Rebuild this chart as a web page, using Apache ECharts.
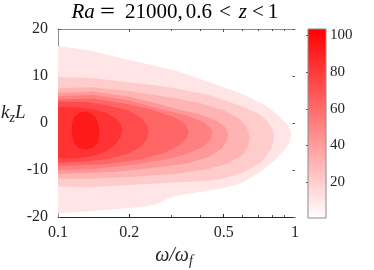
<!DOCTYPE html>
<html><head><meta charset="utf-8">
<script src="https://cdn.jsdelivr.net/npm/echarts@6/dist/echarts.min.js"></script>
<style>html,body{margin:0;padding:0;background:#fff}#c{width:374px;height:270px}</style>
</head><body><div id="c"></div>
<script>
// contour levels (value of each filled region's lower bound)
const levels = [11, 21, 31, 42, 52, 62, 73, 83, 93];
// contour outlines in data space [omega/omega_f, k_z L]
const contour11 = [[0.1,16.4],[0.134,15.5],[0.186,13.8],[0.245,12.4],[0.327,10.9],[0.429,8.8],[0.595,6.3],[0.748,3.8],[0.847,1.7],[0.934,-0.4],[0.958,-1.5],[0.962,-2.8],[0.945,-4.2],[0.907,-5.6],[0.823,-7.9],[0.699,-10.7],[0.595,-12.8],[0.505,-13.8],[0.429,-14.4],[0.312,-15.5],[0.283,-16.4],[0.257,-17.4],[0.217,-17.9],[0.158,-18.5],[0.1,-19.2]];
const contour21 = [[0.1,9.8],[0.14,9.6],[0.2,8.6],[0.26,8.0],[0.31,7.4],[0.43,6.0],[0.6,3.5],[0.7,2.0],[0.76,0.5],[0.8,-1.0],[0.815,-2.3],[0.81,-3.8],[0.795,-5.5],[0.72,-8.4],[0.6,-10.6],[0.5,-11.8],[0.43,-12.3],[0.32,-12.6],[0.24,-13.0],[0.14,-13.6],[0.1,-13.5]];
const contour31 = [[0.1,7.4],[0.14,7.6],[0.2,6.8],[0.31,5.3],[0.4,4.2],[0.5,2.7],[0.58,1.0],[0.625,-0.8],[0.645,-2.9],[0.635,-5.0],[0.6,-6.8],[0.52,-8.6],[0.43,-9.8],[0.32,-10.8],[0.2,-11.5],[0.14,-11.8],[0.1,-11.8]];
const contour42 = [[0.1,6.4],[0.14,6.7],[0.2,5.6],[0.25,4.4],[0.31,3.1],[0.4,1.8],[0.47,0.4],[0.51,-1.0],[0.522,-2.2],[0.515,-3.8],[0.49,-5.5],[0.43,-7.3],[0.35,-8.6],[0.25,-9.6],[0.17,-10.4],[0.1,-10.8]];
const contour52 = [[0.1,5.7],[0.14,6.0],[0.2,4.8],[0.27,3.0],[0.35,1.6],[0.41,0.2],[0.44,-1.0],[0.447,-2.0],[0.44,-3.5],[0.41,-5.0],[0.35,-6.6],[0.27,-8.0],[0.2,-9.0],[0.14,-9.8],[0.1,-10.0]];
const contour62 = [[0.1,5.0],[0.14,5.2],[0.19,4.2],[0.25,2.8],[0.31,1.2],[0.345,-0.2],[0.356,-1.6],[0.35,-3.2],[0.325,-4.8],[0.28,-6.4],[0.22,-7.8],[0.16,-8.7],[0.1,-9.2]];
const contour73 = [[0.1,4.5],[0.13,4.5],[0.16,3.8],[0.2,2.6],[0.225,1.0],[0.238,-0.5],[0.241,-2.0],[0.236,-3.6],[0.222,-5.2],[0.195,-6.6],[0.16,-7.7],[0.13,-8.2],[0.1,-8.5]];
const contour83 = [[0.1,3.4],[0.12,3.3],[0.14,2.9],[0.16,2.2],[0.175,1.0],[0.184,-0.3],[0.187,-1.6],[0.184,-3.0],[0.175,-4.6],[0.16,-6.0],[0.14,-7.1],[0.12,-7.5],[0.1,-7.5]];
const contour93 = [[0.1142,-0.5],[0.117,1.3],[0.123,2.2],[0.131,2.5],[0.139,2.1],[0.145,1.0],[0.149,-0.8],[0.15,-2.5],[0.147,-4.2],[0.14,-5.3],[0.131,-5.7],[0.122,-5.3],[0.117,-4.2],[0.1145,-2.5]];
const contours = [contour11, contour21, contour31, contour42, contour52, contour62, contour73, contour83, contour93];
// axes
const xRange = [0.1, 1];
const xLabelValues = [0.1, 0.2, 0.5, 1];
const xMajorTicks = [0.2, 0.5];
const xMinorTicks = [0.3, 0.4, 0.6, 0.7, 0.8, 0.9];
const yRange = [-20, 20];
const yStep = 10;
const cbRange = [0.6, 103.4];
const cbTicks = [20, 40, 60, 80, 100];

const SERIF = '"Liberation Serif","DejaVu Serif",serif';
const TXT = '#262626';
const FRAME = '#8c8c8c';

const chart = echarts.init(document.getElementById('c'), null, {renderer: 'canvas'});
const hiddenLog = (pos, ticks, len, lineShow) => ({
  gridIndex: 0, type: 'log', logBase: 10, min: xRange[0], max: xRange[1], position: pos,
  axisLine: {show: lineShow, onZero: false, lineStyle: {color: FRAME, width: 1}},
  axisTick: {show: true, inside: true, length: len, customValues: ticks, lineStyle: {color: '#555'}},
  axisLabel: {show: false}, splitLine: {show: false}, minorTick: {show: false}
});
chart.setOption({
  animation: false,
  grid: [
    {left: 58, right: 79, top: 29, bottom: 53},
    {left: 308, top: 29, width: 18, height: 189}
  ],
  visualMap: {
    show: false, type: 'continuous', seriesIndex: 0, dimension: 1,
    min: cbRange[0], max: cbRange[1], inRange: {color: ['#ffffff', '#ff0000']}
  },
  xAxis: [
    {
      gridIndex: 0, type: 'log', logBase: 10, min: xRange[0], max: xRange[1], position: 'bottom',
      axisLine: {show: true, onZero: false, lineStyle: {color: TXT, width: 1}},
      axisTick: {show: true, inside: true, length: 3, customValues: xMajorTicks, lineStyle: {color: TXT}},
      axisLabel: {customValues: xLabelValues, margin: 8, color: TXT, fontFamily: SERIF, fontSize: 16,
        formatter: v => String(parseFloat(Number(v).toPrecision(4)))},
      splitLine: {show: false}, minorTick: {show: false}
    },
    hiddenLog('bottom', xMinorTicks, 2, false),
    hiddenLog('top', xMajorTicks, 3, true),
    hiddenLog('top', xMinorTicks, 2, false),
    {gridIndex: 1, type: 'value', min: 0, max: 1, show: false}
  ],
  yAxis: [
    {
      gridIndex: 0, type: 'value', min: yRange[0], max: yRange[1], interval: yStep, position: 'left',
      axisLine: {show: true, onZero: false, lineStyle: {color: FRAME}},
      axisTick: {show: true, inside: true, length: 2.5, lineStyle: {color: '#555'}},
      axisLabel: {margin: 10, color: TXT, fontFamily: SERIF, fontSize: 16},
      splitLine: {show: false}
    },
    {
      gridIndex: 0, type: 'value', min: yRange[0], max: yRange[1], interval: yStep, position: 'right',
      axisLine: {show: false},
      axisTick: {show: true, inside: true, length: 2.5, lineStyle: {color: '#555'}},
      axisLabel: {show: false}, splitLine: {show: false}
    },
    {
      gridIndex: 1, type: 'value', min: cbRange[0], max: cbRange[1], position: 'right',
      axisLine: {show: false},
      axisTick: {show: true, inside: true, length: 2, customValues: cbTicks, lineStyle: {color: '#555'}},
      axisLabel: {customValues: cbTicks, margin: 4, color: TXT, fontFamily: SERIF, fontSize: 15},
      splitLine: {show: false}
    }
  ],
  series: [
    {
      type: 'custom', coordinateSystem: 'cartesian2d', xAxisIndex: 0, yAxisIndex: 0,
      clip: true, silent: true,
      dimensions: ['idx', 'level'], encode: {x: 1, y: 1},
      data: levels.map((lv, i) => [i, lv]),
      renderItem: (params, api) => {
        const pts = contours[params.dataIndex].map(p => api.coord(p));
        return {type: 'polygon', shape: {points: pts}, style: {fill: api.visual('color'), stroke: null}};
      }
    },
    {
      type: 'custom', coordinateSystem: 'cartesian2d', xAxisIndex: 4, yAxisIndex: 2, silent: true,
      data: [[0, cbRange[0], cbRange[1]]], encode: {x: 0, y: [1, 2]},
      renderItem: (params, api) => {
        const p0 = api.coord([0, api.value(1)]);
        const p1 = api.coord([1, api.value(2)]);
        return {
          type: 'rect',
          shape: {x: p0[0], y: p1[1], width: p1[0] - p0[0], height: p0[1] - p1[1]},
          style: {
            fill: new echarts.graphic.LinearGradient(0, 0, 0, 1, [
              {offset: 0, color: '#ff0000'}, {offset: 1, color: '#ffffff'}
            ]),
            stroke: FRAME, lineWidth: 1
          }
        };
      }
    }
  ],
  graphic: [
    {
      type: 'text', x: 71.5, y: 12,
      style: {
        text: '{i|Ra}',
        align: 'left', verticalAlign: 'middle', fill: '#000',
        rich: {i: {fontFamily: SERIF, fontStyle: 'italic', fontSize: 21, fill: '#000'}}
      }
    },
    {
      type: 'text', x: 107.5, y: 13,
      style: {
        text: '\uFF1D', align: 'center', verticalAlign: 'middle', fill: '#000',
        fontFamily: '"DejaVu Serif", "Noto Sans CJK SC", sans-serif', fontSize: 17
      }
    },
    {
      type: 'text', x: 125, y: 12,
      style: {
        text: '{n|21000,}{t|0.6}{o|<}{i|z}{p|<}{n|1}',
        align: 'left', verticalAlign: 'middle', fill: '#000',
        rich: {
          i: {fontFamily: SERIF, fontStyle: 'italic', fontSize: 21, fill: '#000'},
          n: {fontFamily: SERIF, fontSize: 21, fill: '#000'},
          t: {fontFamily: SERIF, fontSize: 21, fill: '#000', padding: [0, 0, 0, 3]},
          o: {fontFamily: SERIF, fontSize: 21, fill: '#000', padding: [0, 8, 0, 7]},
          p: {fontFamily: SERIF, fontSize: 21, fill: '#000', padding: [0, 4, 0, 5]}
        }
      }
    },
    {
      type: 'text', x: 1, y: 113,
      style: {
        text: '{i|k}{s|z}{i|L}', align: 'left', verticalAlign: 'middle', fill: TXT,
        rich: {
          i: {fontFamily: SERIF, fontStyle: 'italic', fontSize: 19, lineHeight: 24, fill: TXT},
          s: {fontFamily: SERIF, fontStyle: 'italic', fontSize: 14, lineHeight: 14, verticalAlign: 'bottom', fill: TXT}
        }
      }
    },
    {
      type: 'text', x: 174, y: 256,
      style: {
        text: '{i|ω/ω}{s|f}', align: 'center', verticalAlign: 'middle', fill: TXT,
        rich: {
          i: {fontFamily: SERIF, fontStyle: 'italic', fontSize: 20, lineHeight: 24, fill: TXT},
          s: {fontFamily: SERIF, fontStyle: 'italic', fontSize: 14, lineHeight: 14, verticalAlign: 'bottom', fill: TXT}
        }
      }
    }
  ]
});
</script></body></html>
